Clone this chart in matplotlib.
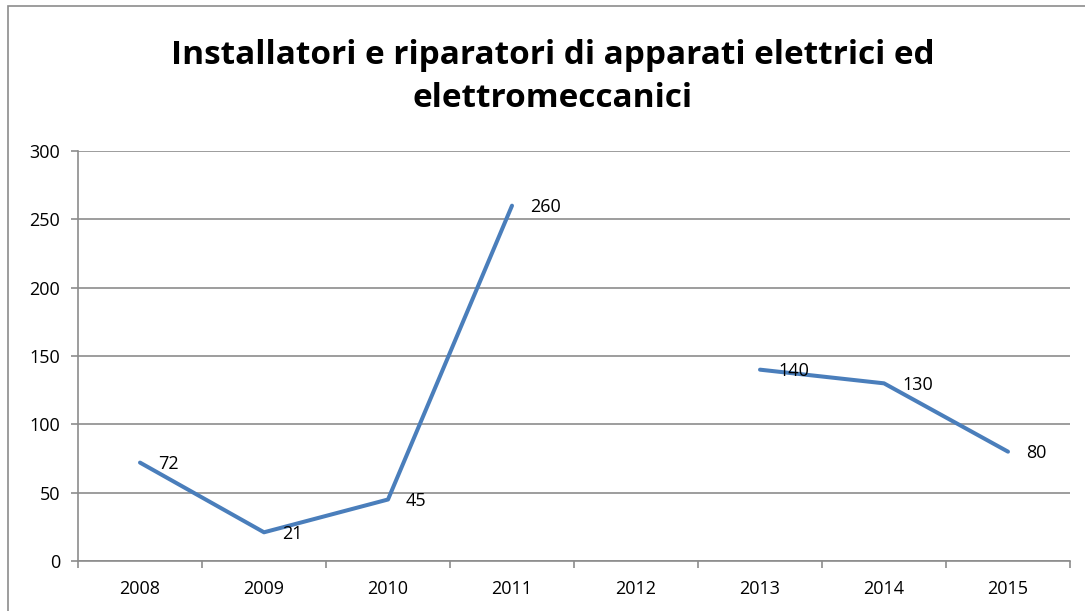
import numpy as np
import matplotlib
matplotlib.use("Agg")
import matplotlib.pyplot as plt
from matplotlib.patches import Rectangle

years = ["2008", "2009", "2010", "2011", "2012", "2013", "2014", "2015"]
values = [72, 21, 45, 260, np.nan, 140, 130, 80]
yticks = [0, 50, 100, 150, 200, 250, 300]
title = "Installatori e riparatori di apparati elettrici ed\nelettromeccanici"

plt.rcParams['font.family'] = ['Open Sans', 'DejaVu Sans']

W, H = 1085, 611
fig = plt.figure(figsize=(W / 100, H / 100), dpi=100)
left, right, top, bottom = 78, 1070, 151, 561
ax = fig.add_axes([left / W, 1 - bottom / H, (right - left) / W, (bottom - top) / H])

# outer frame
fig.patches.append(Rectangle((8 / W, -0.1), 1.2, 1 - 6 / H + 0.1, transform=fig.transFigure,
                             fill=False, edgecolor='#8c8c8c', linewidth=1.2))

x = np.arange(len(years))
ax.plot(x, values, color='#4A7EBB', linewidth=2.9, solid_capstyle='round', solid_joinstyle='round', zorder=3)
for xi, v in zip(x, values):
    if not np.isnan(v):
        ax.annotate(f"{int(v)}", (xi, v), xytext=(13, -1), textcoords='offset points',
                    ha='left', va='center', fontsize=13, color='black', zorder=4)

ax.set_xlim(-0.5, len(years) - 0.5)
ax.set_ylim(0, 300)
ax.set_yticks(yticks)
ax.set_yticklabels([str(t) for t in yticks], fontsize=13)
ax.yaxis.grid(True, color='#8c8c8c', linewidth=1.2)
ax.set_axisbelow(True)

ax.set_xticks(x)
ax.set_xticklabels(years, fontsize=13)
ax.tick_params(axis='x', which='major', length=0, pad=14)
ax.set_xticks(np.arange(-0.5, len(years)), minor=True)
ax.tick_params(axis='x', which='minor', length=5, color='#8c8c8c', width=1.2, direction='out')
ax.tick_params(axis='y', length=5, color='#8c8c8c', width=1.2, pad=8)

for s in ['top', 'right']:
    ax.spines[s].set_visible(False)
for s in ['left', 'bottom']:
    ax.spines[s].set_color('#8c8c8c')
    ax.spines[s].set_linewidth(1.2)

fig.text(553 / W, 1 - 77 / H, title, ha='center', va='center', fontsize=24,
         fontweight='bold', linespacing=1.42)

fig.savefig("out.png", dpi=100)
